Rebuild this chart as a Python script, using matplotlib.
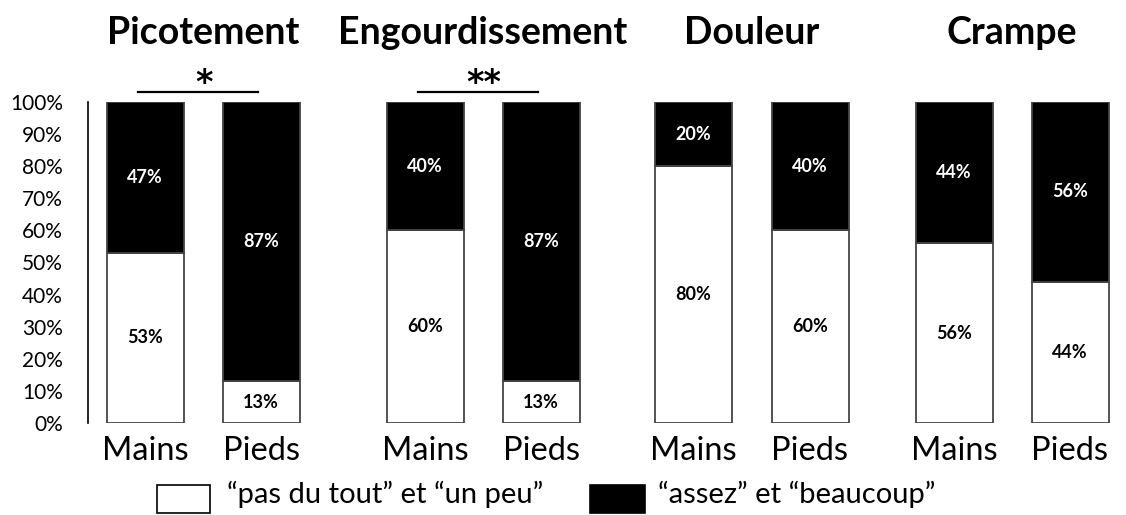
import matplotlib
matplotlib.use("Agg")
import matplotlib.pyplot as plt
from matplotlib.patches import Rectangle

plt.rcParams['font.family'] = ['Lato', 'DejaVu Sans']

symptoms = ["Picotement", "Engourdissement", "Douleur", "Crampe"]
sites = ["Mains", "Pieds"]
# % "pas du tout" et "un peu" (white) per symptom, [Mains, Pieds]
low = [[53, 13], [60, 13], [80, 60], [56, 44]]
# % "assez" et "beaucoup" (black)
high = [[47, 87], [40, 87], [20, 40], [44, 56]]
signif = ["*", "**", "", ""]
legend_labels = ["\u201cpas du tout\u201d et \u201cun peu\u201d", "\u201cassez\u201d et \u201cbeaucoup\u201d"]

# layout: bar centres (in axis pixel units)
centres = [[57, 173], [337, 453], [605, 722], [866, 982]]
bar_w = 77

fig = plt.figure(figsize=(11.26, 5.15), dpi=100)
ax = fig.add_axes([88 / 1126, 1 - 423 / 515, 1032 / 1126, 321 / 515])
ax.set_xlim(0, 1032)
ax.set_ylim(0, 100)

ticks_x, ticks_lab = [], []
for g in range(4):
    for s in range(2):
        x = centres[g][s]
        lo, hi = low[g][s], high[g][s]
        ax.bar(x, lo, width=bar_w, color="white", edgecolor="#444444", linewidth=1.3)
        ax.bar(x, hi, bottom=lo, width=bar_w, color="black", edgecolor="#444444", linewidth=1.3)
        ax.text(x, lo / 2, f"{lo}%", ha="center", va="center", fontsize=13,
                fontweight="bold", color="black")
        ax.text(x, lo + hi / 2, f"{hi}%", ha="center", va="center", fontsize=13,
                fontweight="bold", color="white")
        ticks_x.append(x)
        ticks_lab.append(sites[s])
    mid = (centres[g][0] + centres[g][1]) / 2
    ax.text(mid, 118.0, symptoms[g], ha="center", va="baseline",
            fontsize=27, fontweight="bold", clip_on=False)
    if signif[g]:
        ax.plot([centres[g][0] - 7, centres[g][1] - 3], [103.1, 103.1], color="black",
                lw=1.6, clip_on=False)
        ax.text(mid + 1, 106.9, signif[g], ha="center", va="center_baseline", fontsize=24,
                fontweight="bold", family="DejaVu Sans")

ax.set_xticks(ticks_x)
ax.set_xticklabels(ticks_lab, fontsize=23.5)
ax.set_yticks(range(0, 101, 10))
ax.set_yticklabels([f"{v}%" for v in range(0, 101, 10)], fontsize=15)
ax.tick_params(length=0)
ax.tick_params(axis="x", pad=9)
ax.tick_params(axis="y", pad=18)
for sp in ["top", "right", "bottom"]:
    ax.spines[sp].set_visible(False)
ax.spines["left"].set_linewidth(1.2)

# legend
fig.patches.append(Rectangle((157 / 1126, 1 - 513 / 515), 53 / 1126, 28 / 515,
                             transform=fig.transFigure, facecolor="white",
                             edgecolor="black", lw=1.2))
fig.patches.append(Rectangle((590 / 1126, 1 - 513 / 515), 55 / 1126, 28 / 515,
                             transform=fig.transFigure, facecolor="black",
                             edgecolor="black", lw=1.2))
fig.text(227 / 1126, 1 - 494 / 515, legend_labels[0], fontsize=21, va="center")
fig.text(658 / 1126, 1 - 494 / 515, legend_labels[1], fontsize=21, va="center")

fig.savefig("out.png", dpi=100)
